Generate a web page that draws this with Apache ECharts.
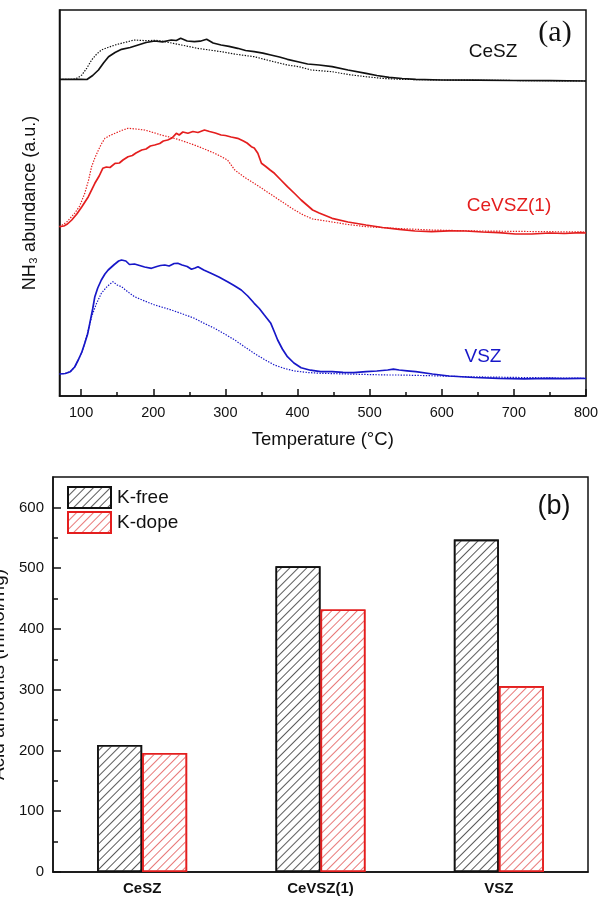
<!DOCTYPE html>
<html>
<head>
<meta charset="utf-8">
<script src="https://cdn.jsdelivr.net/npm/echarts@6/dist/echarts.min.js"></script>
<style>
html,body{margin:0;padding:0;background:#fff;}
#c{width:600px;height:898px;}
</style>
</head>
<body>
<div id="c"></div>
<script>
// ---------- Panel (a): NH3-TPD profiles (temperature °C, abundance a.u.) ----------
const tempMajorTicks = [100, 200, 300, 400, 500, 600, 700, 800];
const tempMinorTicks = [150, 250, 350, 450, 550, 650, 750];

const cesz_free = [[70,316.7],[100,316.7],[108,316.5],[116,320.5],[124,326],[131,333],[138,339.3],[147,343.5],[156,346.7],[168,348.5],[179,351],[190,353.5],[202,355],[213,354.2],[225,356],[232,355.5],[238,357.7],[247,355],[257,354.3],[265,354.8],[274,356.7],[283,353],[294,351],[305,349.6],[317,347.7],[328,345.5],[340,344.3],[352,342.8],[363,341],[375,339],[386,336.7],[402,334],[414,332],[430,331],[448,329.3],[470,326],[495,322.7],[510,320.5],[527,318.7],[545,317.5],[564,316.7],[600,316],[650,315.8],[700,315.5],[750,315.3],[800,315]];
const cesz_dope = [[70,316.7],[89,316.7],[95,318],[101,321],[108,328],[114.5,336],[121,341.5],[128,346],[137,348.5],[147,351],[160,353.5],[174,356],[183,355.6],[192,355.3],[204,355.8],[216,354.3],[228,352.6],[239,351],[250,349.4],[261,347.7],[278,346],[294,344.3],[317,341.5],[340,339.3],[363,335],[386,331],[402,329.3],[419,326],[448,324.3],[470,321.5],[495,319.3],[520,317.5],[541,316.7],[600,316],[700,315.5],[800,315]];

const cevsz_free = [[70,169.3],[76,170],[81,172],[87,176],[94,182],[101,189.3],[110,199.3],[119,212.7],[125,220],[130,227.7],[135,229],[140,228.5],[147,232.7],[153,233],[158,236],[165,239.3],[171,240.5],[176,243],[184,246],[190,247],[196,250],[202,251],[209,252.5],[214,255],[220,256],[226,258],[232,262.7],[236,261],[241,264],[248,262.7],[255,264.5],[262,263.5],[271,266],[278,264.5],[286,263],[294,261],[300,260.5],[308,259],[317,257.7],[325,255],[330,253],[336,249.3],[340,248],[345,242.7],[350,232.7],[356,229.5],[362,226],[368,222.7],[377,216],[386,209.3],[396,202.5],[405,196],[413,191],[421,186],[430,183],[448,177.7],[470,174],[495,171],[518,168.5],[541,166.7],[563,165],[586,164.3],[610,165.2],[633,165],[656,164],[679,163.3],[702,162],[725,162],[750,163],[770,162.5],[793,163.3],[800,163]];
const cevsz_dope = [[70,169.3],[80,174],[91,182.7],[98,190],[105,202.7],[110,215],[114.5,229.3],[119,238],[124,246],[128,252],[133,257.7],[140,260.5],[147,262.7],[156,265.5],[165,267.7],[176,267],[188,266],[200,263.5],[211,261],[222,259],[234,256.7],[245,254],[257,251],[271,247],[285,242.7],[294,239.5],[303,236],[308,231],[313,226],[326,219],[340,212.7],[354,206],[368,199.3],[382,192.5],[396,186],[408,181],[421,177],[435,175.5],[448,174],[470,171.5],[495,169.3],[540,167.5],[586,166],[650,165],[720,164.5],[800,164]];

const vsz_free = [[70,22],[78,22.5],[85,24.3],[91,29],[96,36],[101,44],[105,52.7],[109,62],[112,72.7],[116,87],[119,99.3],[123,108],[128,116],[133,122],[137.5,126],[146,131.5],[152,135],[156,136],[162,135],[167,131.5],[174,132],[181,130.5],[188,129],[197.5,127.7],[205,129.5],[210,130.5],[216,131],[222,130],[229,132.5],[234,132.7],[240,131],[247,129.5],[253,126.7],[258,128],[262,129.3],[270,126],[280,122.7],[291,119],[303,114.3],[312,110.5],[322,106],[331,100],[340,92.7],[347,87.5],[354,81],[363,72.7],[368,64],[372.5,56],[379,47],[386,39.3],[395,33],[405,28.3],[418,25.8],[432,24.3],[448,24.3],[463,23.6],[478,23.3],[495,24.3],[510,25],[525,26],[533,26.8],[541,26],[552,25.2],[564,24.3],[587,22],[610,20],[645,18.5],[679,17.7],[714,17.2],[748,17.7],[770,17.4],[793,17.7],[800,17.5]];
const vsz_dope = [[70,22],[78,22.5],[85,24.3],[91,29],[96,36],[101,44],[105,52.7],[110,66],[114.5,79.3],[121,92],[128,102.7],[136,109.5],[144,114.3],[150,111],[156,109.3],[165,104],[174,99.3],[188,95],[202,91],[214,88.5],[225,86],[241,82],[257,77.7],[271,72.5],[285,67.7],[299,62],[313,56],[327,49],[340,42.7],[354,36.5],[368,31],[382,27.5],[396,25],[414,23.5],[432,22.7],[480,21.8],[525,21],[541,21],[590,20.2],[633,19.3],[700,18.6],[760,18],[800,17.7]];

// ---------- Panel (b): acid amounts ----------
const samples = ['CeSZ', 'CeVSZ(1)', 'VSZ'];
const kFree = [209, 503, 547];
const kDope = [196, 432, 306];
const acidMajorTicks = [0, 100, 200, 300, 400, 500, 600];
const acidMinorTicks = [50, 150, 250, 350, 450, 550];

const BLACK = '#111111';
const RED = '#e41e1e';
const BLUE = '#1717c8';
const FONT = 'Liberation Sans, Arial, sans-serif';

function line(name, data, color, dotted) {
  return {
    type: 'line', name: name, xAxisIndex: 0, yAxisIndex: 0, data: data,
    showSymbol: false, symbol: 'none', smooth: false, animation: false,
    lineStyle: dotted ? {color: color, width: 1.2, type: [1.4, 1.4]} : {color: color, width: 1.7},
    itemStyle: {color: color}, silent: true
  };
}
function hatch(color) {
  return {symbol: 'rect', symbolSize: 1, dashArrayX: [1, 0], dashArrayY: [1, 5],
          rotation: -Math.PI / 4, color: color};
}

const chart = echarts.init(document.getElementById('c'), null, {renderer: 'canvas'});
chart.setOption({
  animation: false,
  backgroundColor: '#fff',
  textStyle: {fontFamily: FONT},
  grid: [
    {left: 59.5, top: 10, right: 14, height: 386, show: true, borderColor: BLACK, borderWidth: 1.5, backgroundColor: 'transparent', containLabel: false, outerBoundsMode: 'none'},
    {left: 53, top: 477, right: 12, height: 395, show: true, borderColor: BLACK, borderWidth: 1.5, backgroundColor: 'transparent', containLabel: false, outerBoundsMode: 'none'}
  ],
  legend: {
    data: ['K-free', 'K-dope'], orient: 'vertical', left: 62, top: 481,
    itemWidth: 43, itemHeight: 21, itemGap: 2, icon: 'rect',
    textStyle: {fontSize: 19, color: BLACK, fontFamily: FONT, padding: [0,0,0,1]}
  },
  xAxis: [
    {type: 'value', gridIndex: 0, min: 70, max: 800, position: 'bottom',
     name: 'Temperature (°C)', nameLocation: 'middle', nameGap: 34,
     nameTextStyle: {fontSize: 18.5, color: BLACK, fontFamily: FONT},
     axisLine: {show: true, lineStyle: {color: BLACK, width: 1.5}},
     axisTick: {show: true, inside: true, length: 7, lineStyle: {color: BLACK, width: 1.5}, customValues: tempMajorTicks},
     axisLabel: {show: true, fontSize: 14.5, color: BLACK, margin: 9, customValues: tempMajorTicks},
     splitLine: {show: false}},
    {type: 'value', gridIndex: 0, min: 70, max: 800, position: 'bottom',
     axisLine: {show: false},
     axisTick: {show: true, inside: true, length: 4, lineStyle: {color: BLACK, width: 1.5}, customValues: tempMinorTicks},
     axisLabel: {show: false}, splitLine: {show: false}},
    {type: 'category', gridIndex: 1, data: samples, position: 'bottom',
     axisLine: {show: true, lineStyle: {color: BLACK, width: 1.5}},
     axisTick: {show: false},
     axisLabel: {fontSize: 15, fontWeight: 'bold', color: BLACK, margin: 9}}
  ],
  yAxis: [
    {type: 'value', gridIndex: 0, min: 0, max: 386, position: 'left',
     name: 'NH₃ abundance (a.u.)', nameLocation: 'middle', nameGap: 20,
     nameTextStyle: {fontSize: 18, color: BLACK, fontFamily: FONT},
     axisLine: {show: true, lineStyle: {color: BLACK, width: 1.5}},
     axisTick: {show: false}, axisLabel: {show: false}, splitLine: {show: false}},
    {type: 'value', gridIndex: 1, min: 0, max: 650, position: 'left',
     name: 'Acid amounts (mmol/mg)', nameLocation: 'middle', nameGap: 41,
     nameTextStyle: {fontSize: 19, color: BLACK, fontFamily: FONT},
     axisLine: {show: true, lineStyle: {color: BLACK, width: 1.5}},
     axisTick: {show: true, inside: true, length: 8, lineStyle: {color: BLACK, width: 1.5}, customValues: acidMajorTicks},
     axisLabel: {fontSize: 15, color: BLACK, margin: 9, customValues: acidMajorTicks},
     splitLine: {show: false}},
    {type: 'value', gridIndex: 1, min: 0, max: 650, position: 'left',
     axisLine: {show: false},
     axisTick: {show: true, inside: true, length: 5, lineStyle: {color: BLACK, width: 1.5}, customValues: acidMinorTicks},
     axisLabel: {show: false}, splitLine: {show: false}}
  ],
  series: [
    line('CeSZ K-free', cesz_free, BLACK, false),
    line('CeSZ K-dope', cesz_dope, BLACK, true),
    line('CeVSZ(1) K-free', cevsz_free, RED, false),
    line('CeVSZ(1) K-dope', cevsz_dope, RED, true),
    line('VSZ K-free', vsz_free, BLUE, false),
    line('VSZ K-dope', vsz_dope, BLUE, true),
    {type: 'bar', name: 'K-free', xAxisIndex: 2, yAxisIndex: 1, data: kFree,
     barWidth: 45, barGap: '0%',
     itemStyle: {color: '#ffffff', borderColor: BLACK, borderWidth: 1.6, decal: hatch('#5a5a5a')}},
    {type: 'bar', name: 'K-dope', xAxisIndex: 2, yAxisIndex: 1, data: kDope,
     barWidth: 45, barGap: '0%',
     itemStyle: {color: '#ffffff', borderColor: RED, borderWidth: 1.6, decal: hatch('#e87878')}}
  ],
  graphic: [
    {type: 'text', x: 555, y: 33, style: {text: '(a)', fontSize: 30, fontFamily: 'Liberation Serif, Times New Roman, serif', fill: BLACK, textAlign: 'center', textVerticalAlign: 'middle'}},
    {type: 'text', x: 493, y: 52, style: {text: 'CeSZ', fontSize: 19, fontFamily: FONT, fill: BLACK, textAlign: 'center', textVerticalAlign: 'middle'}},
    {type: 'text', x: 509, y: 206, style: {text: 'CeVSZ(1)', fontSize: 19, fontFamily: FONT, fill: RED, textAlign: 'center', textVerticalAlign: 'middle'}},
    {type: 'text', x: 483, y: 357, style: {text: 'VSZ', fontSize: 19, fontFamily: FONT, fill: BLUE, textAlign: 'center', textVerticalAlign: 'middle'}},
    {type: 'text', x: 554, y: 507, style: {text: '(b)', fontSize: 27, fontFamily: FONT, fill: BLACK, textAlign: 'center', textVerticalAlign: 'middle'}}
  ]
});
</script>
</body>
</html>
